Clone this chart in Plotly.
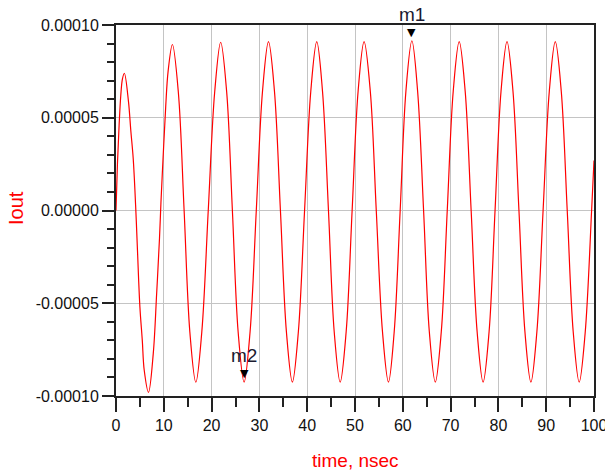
import plotly.graph_objects as go

# time axis (ns) and output current (A)
time_ns = [
    0.0, 0.3, 0.65, 1.0, 1.35, 1.75,
    2.6, 3.1, 3.6, 4.1, 4.5, 5.0, 5.5, 5.9, 6.8,
    7.8, 8.5, 9.1, 9.4, 9.9, 10.4, 10.9, 11.8,
    13.05, 14.25, 15.45, 16.7, 17.95, 19.3, 20.65, 21.9,
    23.15, 24.35, 25.55, 26.8, 28.05, 29.35, 30.65, 31.9,
    33.15, 34.4, 35.65, 36.9, 38.15, 39.45, 40.75, 42.0,
    43.2, 44.45, 45.65, 46.9, 48.15, 49.4, 50.65, 51.9,
    53.2, 54.45, 55.75, 57.0, 58.2, 59.45, 60.65, 61.9,
    63.1, 64.35, 65.55, 66.8, 68.05, 69.3, 70.55, 71.8,
    73.05, 74.3, 75.55, 76.8, 78.05, 79.3, 80.55, 81.8,
    83.05, 84.3, 85.55, 86.8, 88.05, 89.35, 90.65, 91.9,
    93.15, 94.4, 95.65, 96.9, 98.15, 99.5, 100.0,
]
iout = [
    0.0, 2.5e-5, 4.6e-5, 6.2e-5, 7.1e-5, 7.4e-5,
    5.9e-5, 4.3e-5, 2.8e-5, 0.3e-5, -2.2e-5, -5.2e-5, -7.0e-5, -8.6e-5, -9.8e-5,
    -7.7e-5, -4.5e-5, -1.5e-5, 0.4e-5, 3.1e-5, 5.6e-5, 7.5e-5, 8.95e-5,
    6.35e-5, 0.0, -6.55e-5, -9.26e-5, -6.55e-5, 0.0, 6.4e-5, 9.07e-5,
    6.4e-5, 0.0, -6.54e-5, -9.25e-5, -6.54e-5, 0.0, 6.43e-5, 9.1e-5,
    6.43e-5, 0.0, -6.54e-5, -9.25e-5, -6.54e-5, 0.0, 6.43e-5, 9.1e-5,
    6.43e-5, 0.0, -6.54e-5, -9.25e-5, -6.54e-5, 0.0, 6.43e-5, 9.1e-5,
    6.43e-5, 0.0, -6.54e-5, -9.25e-5, -6.54e-5, 0.0, 6.43e-5, 9.15e-5,
    6.43e-5, 0.0, -6.54e-5, -9.25e-5, -6.54e-5, 0.0, 6.43e-5, 9.1e-5,
    6.43e-5, 0.0, -6.54e-5, -9.25e-5, -6.54e-5, 0.0, 6.43e-5, 9.1e-5,
    6.43e-5, 0.0, -6.54e-5, -9.25e-5, -6.54e-5, 0.0, 6.43e-5, 9.1e-5,
    6.43e-5, 0.0, -6.54e-5, -9.25e-5, -6.6e-5, 0.0, 2.7e-5,
]

y_tickvals = [-1e-4, -5e-5, 0.0, 5e-5, 1e-4]
y_ticktext = ["-0.00010", "-0.00005", "0.00000", "0.00005", "0.00010"]

marker_names = ["m1", "m2"]
marker_t = [61.9, 26.8]
marker_v = [9.15e-5, -9.25e-5]

TICKFONT = dict(family="Liberation Sans, Arial, sans-serif", size=16, color="#111111")
LABFONT = "Liberation Sans, Arial, sans-serif"

fig = go.Figure()
fig.add_trace(go.Scatter(
    x=time_ns, y=iout, mode="lines",
    line=dict(color="#ff0000", width=1.2, shape="spline", smoothing=1.0),
    showlegend=False, hoverinfo="skip",
))

for name, t, v in zip(marker_names, marker_t, marker_v):
    fig.add_annotation(x=t, y=v, xref="x", yref="y", text="▼", showarrow=False,
                       yanchor="bottom", font=dict(family="DejaVu Sans", size=11, color="#000000"))
    fig.add_annotation(x=t, y=v, xref="x", yref="y", text=name, showarrow=False,
                       yanchor="bottom", yshift=14,
                       font=dict(family=LABFONT, size=19, color="#1a1a30"))

fig.add_annotation(text="Iout", xref="paper", yref="paper", x=-0.209, y=0.507,
                   textangle=-90, showarrow=False, xanchor="center", yanchor="middle",
                   font=dict(family=LABFONT, size=20, color="#ff0000"))
fig.add_annotation(text="time, nsec", xref="paper", yref="paper", x=0.5, y=-0.175,
                   showarrow=False, xanchor="center", yanchor="middle",
                   font=dict(family=LABFONT, size=19, color="#ff0000"))

fig.update_xaxes(
    range=[0, 100], tickmode="linear", tick0=0, dtick=10,
    showgrid=True, gridcolor="#c4c4c4", gridwidth=1,
    showline=True, linecolor="#222222", linewidth=2, mirror=True,
    ticks="outside", ticklen=14, tickwidth=1.5, tickcolor="#222222",
    minor=dict(dtick=5, ticks="outside", ticklen=9, tickwidth=1.5, tickcolor="#222222", showgrid=False),
    tickfont=TICKFONT, zeroline=False, ticklabeloverflow="allow", automargin=False,
)
fig.update_yaxes(
    range=[-1e-4, 1e-4], tickmode="array", tickvals=y_tickvals, ticktext=y_ticktext,
    showgrid=True, gridcolor="#c4c4c4", gridwidth=1,
    showline=True, linecolor="#222222", linewidth=2, mirror=True,
    ticks="outside", ticklen=12, tickwidth=1.5, tickcolor="#222222",
    minor=dict(tickvals=[-9e-5, -8e-5, -7e-5, -6e-5, -4e-5, -3e-5, -2e-5, -1e-5,
                         1e-5, 2e-5, 3e-5, 4e-5, 6e-5, 7e-5, 8e-5, 9e-5],
               ticks="outside", ticklen=7, tickwidth=1.5, tickcolor="#222222", showgrid=False),
    tickfont=TICKFONT, zeroline=False, automargin=False,
)

fig.update_layout(
    width=605, height=475,
    margin=dict(l=116, r=11, t=25, b=79),
    paper_bgcolor="white", plot_bgcolor="white",
)

fig.write_html("out.html")
